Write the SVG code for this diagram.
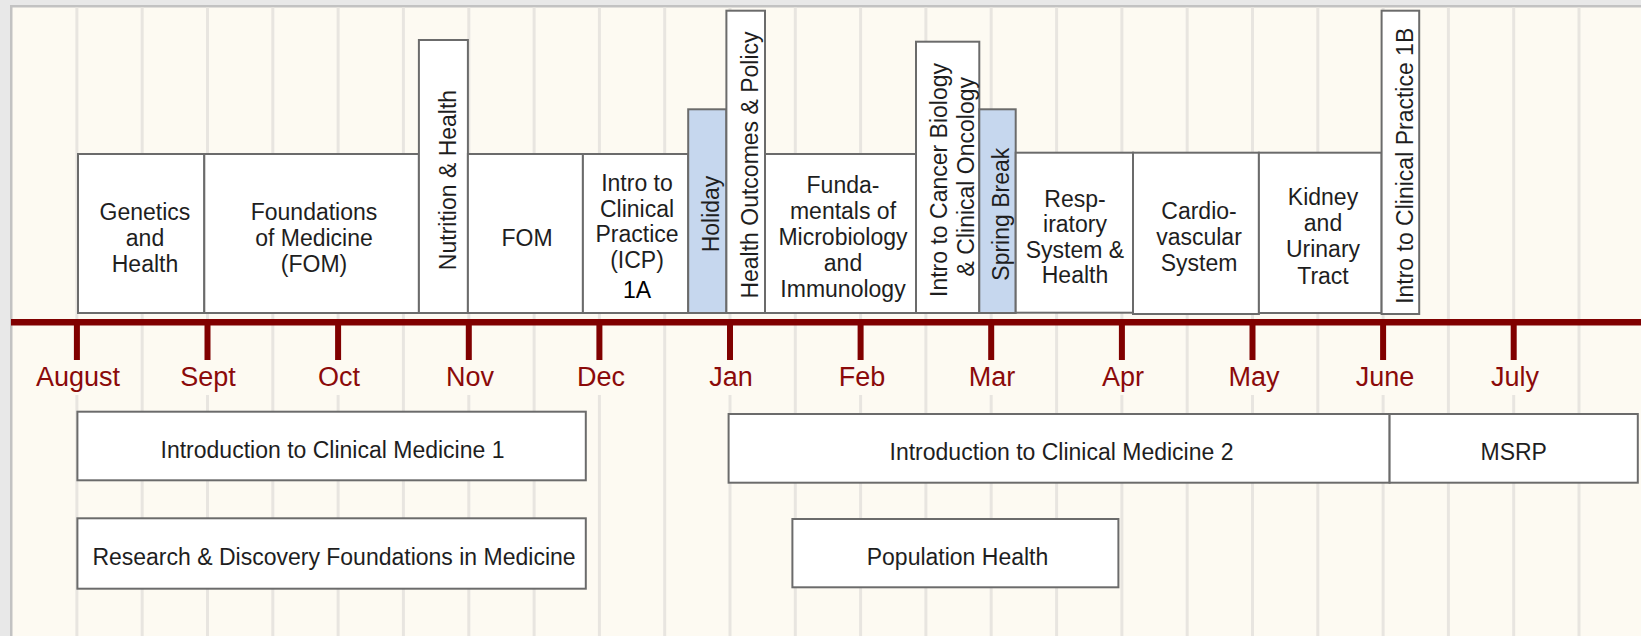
<svg xmlns="http://www.w3.org/2000/svg" width="1641" height="636" viewBox="0 0 1641 636">
<style>
.box{fill:#ffffff;stroke:#6b6b6b;stroke-width:2}
.blue{fill:#c6d7ee;stroke:#6b6b6b;stroke-width:2}
.t{font-family:"Liberation Sans",Arial,sans-serif;font-size:23px;fill:#1e1e1e;text-anchor:middle}
.m{font-family:"Liberation Sans",Arial,sans-serif;font-size:27px;fill:#8b0a0a;text-anchor:middle}
.grid{stroke:#e8e5e0;stroke-width:3}
.axis{stroke:#800000}
</style>
<rect x="0" y="0" width="1641" height="636" fill="#e8e8e8"/>
<rect x="10" y="5" width="1631" height="631" fill="#c2c2c2"/>
<rect x="12.5" y="7.5" width="1628.5" height="628.5" fill="#fdfaf2"/>
<g id="grid">
<path class="grid" d="M76.9 7.5V325M76.9 395V636M142.2 7.5V636M207.5 7.5V325M207.5 395V636M272.8 7.5V636M338.1 7.5V325M338.1 395V636M403.4 7.5V636M468.8 7.5V325M468.8 395V636M534.1 7.5V636M599.4 7.5V325M599.4 395V636M664.7 7.5V636M730 7.5V325M730 395V636M795.3 7.5V636M860.6 7.5V325M860.6 395V636M925.9 7.5V636M991.2 7.5V325M991.2 395V636M1056.6 7.5V636M1121.9 7.5V325M1121.9 395V636M1187.2 7.5V636M1252.5 7.5V325M1252.5 395V636M1317.8 7.5V636M1383.1 7.5V325M1383.1 395V636M1448.4 7.5V636M1513.7 7.5V325M1513.7 395V636M1579 7.5V636"/>
</g>
<g id="connectors">
<rect class="axis" x="11.5" y="319.5" width="1629.5" height="5.5" fill="#800000" stroke="none"/>
<path class="axis" stroke-width="6" d="M76.9 325V360M207.5 325V360M338.1 325V360M468.8 325V360M599.4 325V360M730 325V360M860.6 325V360M991.2 325V360M1121.9 325V360M1252.5 325V360M1383.1 325V360M1513.7 325V360"/>
</g>
<g id="months">
<text class="m" x="78" y="385.5">August</text>
<text class="m" x="208" y="385.5">Sept</text>
<text class="m" x="339" y="385.5">Oct</text>
<text class="m" x="470" y="385.5">Nov</text>
<text class="m" x="601" y="385.5">Dec</text>
<text class="m" x="731" y="385.5">Jan</text>
<text class="m" x="862" y="385.5">Feb</text>
<text class="m" x="992" y="385.5">Mar</text>
<text class="m" x="1123" y="385.5">Apr</text>
<text class="m" x="1254" y="385.5">May</text>
<text class="m" x="1385" y="385.5">June</text>
<text class="m" x="1515" y="385.5">July</text>
</g>
<g id="genetics">
<rect class="box" x="78" y="154" width="126.3" height="159"/>
<text class="t" x="145" y="219.5">Genetics</text>
<text class="t" x="145" y="245.5">and</text>
<text class="t" x="145" y="271.5">Health</text>
</g>
<g id="fom1">
<rect class="box" x="204.3" y="154" width="214.6" height="159"/>
<text class="t" x="314" y="219.5">Foundations</text>
<text class="t" x="314" y="245.5">of Medicine</text>
<text class="t" x="314" y="271.5">(FOM)</text>
</g>
<g id="nutrition">
<rect class="box" x="418.9" y="40" width="49" height="273"/>
<text class="t" transform="translate(455.5,180) rotate(-90)">Nutrition &amp; Health</text>
</g>
<g id="fom2">
<rect class="box" x="467.9" y="154" width="115" height="159"/>
<text class="t" x="527" y="245.5">FOM</text>
</g>
<g id="icp1a">
<rect class="box" x="582.9" y="154" width="105.3" height="159"/>
<text class="t" x="637" y="191">Intro to</text>
<text class="t" x="637" y="216.5">Clinical</text>
<text class="t" x="637" y="242">Practice</text>
<text class="t" x="637" y="267.5">(ICP)</text>
<text class="t" x="637" y="297.5" style="fill:#000">1A</text>
</g>
<g id="holiday">
<rect class="blue" x="688.2" y="109.3" width="38.2" height="203.7"/>
<text class="t" transform="translate(718.6,214) rotate(-90)">Holiday</text>
</g>
<g id="health-outcomes">
<rect class="box" x="726.4" y="10.7" width="38.6" height="302.3"/>
<text class="t" transform="translate(757.9,165) rotate(-90)">Health Outcomes &amp; Policy</text>
</g>
<g id="microbiology">
<rect class="box" x="765" y="154" width="151" height="159"/>
<text class="t" x="843" y="193">Funda-</text>
<text class="t" x="843" y="219">mentals of</text>
<text class="t" x="843" y="245">Microbiology</text>
<text class="t" x="843" y="271">and</text>
<text class="t" x="843" y="297">Immunology</text>
</g>
<g id="cancer">
<rect class="box" x="916" y="41.7" width="63.3" height="271.3"/>
<text class="t" transform="translate(947.1,180) rotate(-90)">Intro  to Cancer Biology</text>
<text class="t" transform="translate(973.9,176.7) rotate(-90)">&amp; Clinical Oncology</text>
</g>
<g id="spring-break">
<rect class="blue" x="979.3" y="109.3" width="36.4" height="203.7"/>
<text class="t" transform="translate(1009.3,214.2) rotate(-90)">Spring Break</text>
</g>
<g id="respiratory">
<rect class="box" x="1015.7" y="152.7" width="117.3" height="160"/>
<text class="t" x="1075" y="206.5">Resp-</text>
<text class="t" x="1075" y="232">iratory</text>
<text class="t" x="1075" y="257.5">System &amp;</text>
<text class="t" x="1075" y="283">Health</text>
</g>
<g id="cardio">
<rect class="box" x="1133" y="152.7" width="125.9" height="161.3"/>
<text class="t" x="1199" y="218.5">Cardio-</text>
<text class="t" x="1199" y="245">vascular</text>
<text class="t" x="1199" y="270.7">System</text>
</g>
<g id="kidney">
<rect class="box" x="1258.9" y="152.7" width="122.7" height="160.3"/>
<text class="t" x="1323" y="205">Kidney</text>
<text class="t" x="1323" y="230.7">and</text>
<text class="t" x="1323" y="256.7">Urinary</text>
<text class="t" x="1323" y="284">Tract</text>
</g>
<g id="icp1b">
<rect class="box" x="1381.6" y="10.7" width="37.6" height="303.3"/>
<text class="t" transform="translate(1412.5,165.8) rotate(-90)">Intro to Clinical Practice 1B</text>
</g>
<g id="icm1">
<rect class="box" x="77.4" y="411.7" width="508.4" height="68.6"/>
<text class="t" x="332.5" y="457.7">Introduction to Clinical Medicine 1</text>
</g>
<g id="research">
<rect class="box" x="77.4" y="518.3" width="508.4" height="70.4"/>
<text class="t" x="334" y="565">Research &amp; Discovery Foundations in Medicine</text>
</g>
<g id="icm2">
<rect class="box" x="728.6" y="414" width="661" height="68.7"/>
<text class="t" x="1061.5" y="460">Introduction to Clinical Medicine 2</text>
</g>
<g id="msrp">
<rect class="box" x="1389.6" y="414" width="248.2" height="68.7"/>
<text class="t" x="1513.7" y="460">MSRP</text>
</g>
<g id="population-health">
<rect class="box" x="792.4" y="519" width="326" height="68.3"/>
<text class="t" x="957.5" y="565">Population Health</text>
</g>
</svg>
